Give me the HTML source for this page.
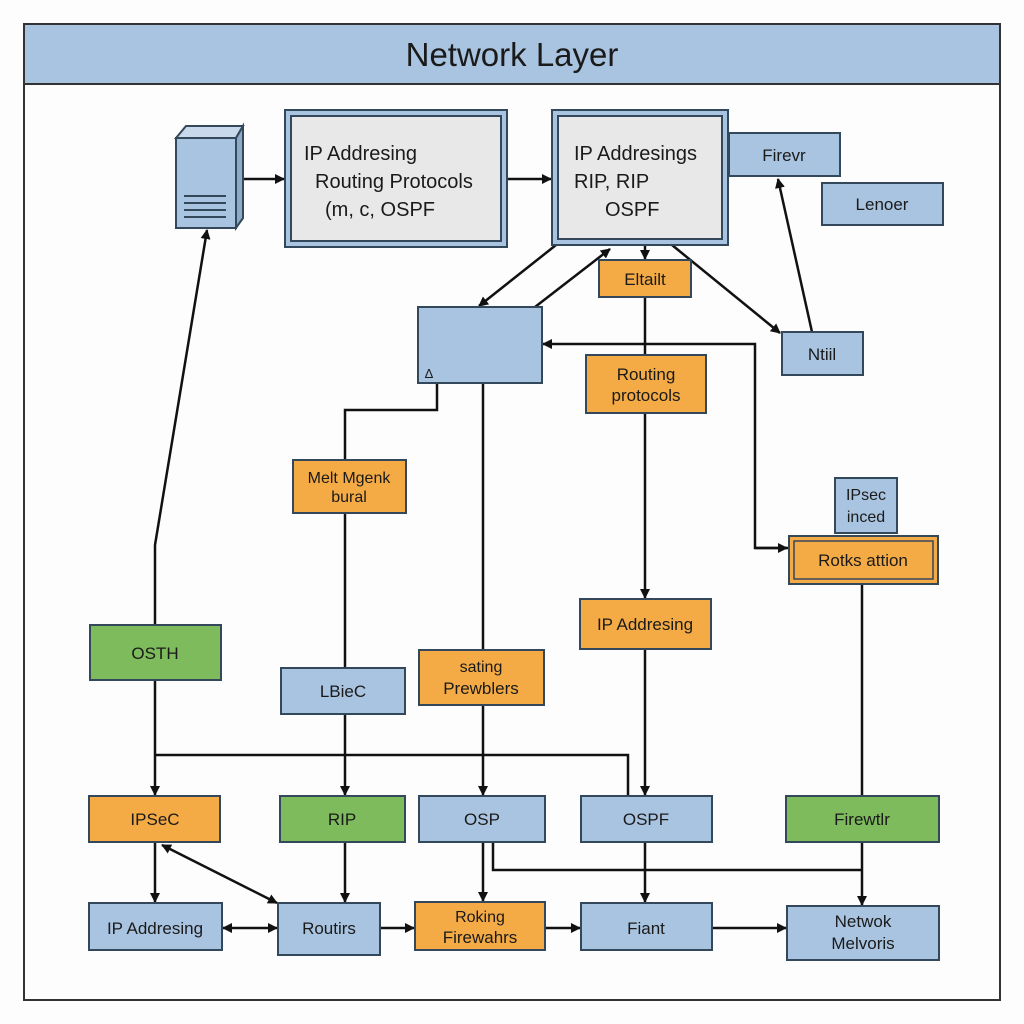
<!DOCTYPE html>
<html><head><meta charset="utf-8"><style>
html,body{margin:0;padding:0;background:#fff;}
svg{display:block;}
text{font-family:"Liberation Sans",sans-serif;fill:#1a1a1a;}
</style></head><body>
<svg width="1024" height="1024" viewBox="0 0 1024 1024" xmlns="http://www.w3.org/2000/svg">
<defs>
<marker id="a" markerWidth="10" markerHeight="10" refX="9" refY="5" orient="auto" markerUnits="userSpaceOnUse">
<path d="M0,0 L10,5 L0,10 z" fill="#111"/></marker>
<marker id="s" markerWidth="10" markerHeight="10" refX="1" refY="5" orient="auto" markerUnits="userSpaceOnUse">
<path d="M10,0 L0,5 L10,10 z" fill="#111"/></marker>
</defs>
<rect width="1024" height="1024" fill="#fdfdfd"/>
<rect x="24" y="24" width="976" height="976" fill="#fdfdfd" stroke="#333" stroke-width="2"/>
<rect x="24" y="24" width="976" height="60" fill="#a9c4e0" stroke="#333" stroke-width="2"/>
<text x="512" y="66" font-size="33" text-anchor="middle">Network Layer</text>

<g stroke="#111" stroke-width="2.5" fill="none">
<line x1="243" y1="179" x2="284" y2="179" marker-end="url(#a)"/>
<line x1="507" y1="179" x2="551" y2="179" marker-end="url(#a)"/>
<polyline points="155,625 155,545 207,230" marker-end="url(#a)"/>
<line x1="556" y1="245" x2="479" y2="306" marker-end="url(#a)"/>
<line x1="535" y1="307" x2="610" y2="249" marker-end="url(#a)"/>
<line x1="645" y1="245" x2="645" y2="259" marker-end="url(#a)"/>
<line x1="672" y1="245" x2="780" y2="333" marker-end="url(#a)"/>
<line x1="812" y1="332" x2="778" y2="179" marker-end="url(#a)"/>
<line x1="645" y1="297" x2="645" y2="355"/>
<line x1="645" y1="413" x2="645" y2="598" marker-end="url(#a)"/>
<polyline points="788,548 755,548 755,344 543,344" marker-end="url(#a)"/>
<line x1="755" y1="548" x2="787" y2="548" marker-end="url(#a)"/>
<polyline points="437,383 437,410 345,410 345,460"/>
<line x1="345" y1="513" x2="345" y2="668"/>
<line x1="345" y1="714" x2="345" y2="795" marker-end="url(#a)"/>
<line x1="483" y1="383" x2="483" y2="650"/>
<line x1="483" y1="705" x2="483" y2="795" marker-end="url(#a)"/>
<polyline points="155,755 628,755 628,796"/>
<line x1="155" y1="680" x2="155" y2="795" marker-end="url(#a)"/>
<line x1="645" y1="649" x2="645" y2="795" marker-end="url(#a)"/>
<line x1="862" y1="584" x2="862" y2="796"/>
<line x1="862" y1="842" x2="862" y2="905" marker-end="url(#a)"/>
<polyline points="493,842 493,870 862,870"/>
<line x1="483" y1="842" x2="483" y2="901" marker-end="url(#a)"/>
<line x1="645" y1="842" x2="645" y2="902" marker-end="url(#a)"/>
<line x1="155" y1="842" x2="155" y2="902" marker-end="url(#a)"/>
<line x1="162" y1="845" x2="277" y2="903" marker-start="url(#s)" marker-end="url(#a)"/>
<line x1="345" y1="842" x2="345" y2="902" marker-end="url(#a)"/>
<line x1="223" y1="928" x2="277" y2="928" marker-start="url(#s)" marker-end="url(#a)"/>
<line x1="380" y1="928" x2="414" y2="928" marker-end="url(#a)"/>
<line x1="545" y1="928" x2="580" y2="928" marker-end="url(#a)"/>
<line x1="712" y1="928" x2="786" y2="928" marker-end="url(#a)"/>
</g>

<g stroke="#34485c" stroke-width="2">
<!-- server -->
<polygon points="176,138 186,126 243,126 236,138" fill="#c9d8ea"/>
<polygon points="236,138 243,126 243,218 236,228" fill="#8eaacb"/>
<rect x="176" y="138" width="60" height="90" fill="#a9c4e0"/>
<line x1="184" y1="196" x2="226" y2="196"/><line x1="184" y1="203" x2="226" y2="203"/><line x1="184" y1="210" x2="226" y2="210"/><line x1="184" y1="217" x2="226" y2="217"/>

<rect x="285" y="110" width="222" height="137" fill="#a9c4e0"/>
<rect x="291" y="116" width="210" height="125" fill="#e8e8e8"/>
<rect x="552" y="110" width="176" height="135" fill="#a9c4e0"/>
<rect x="558" y="116" width="164" height="123" fill="#e8e8e8"/>
<rect x="729" y="133" width="111" height="43" fill="#a9c4e0"/>
<rect x="822" y="183" width="121" height="42" fill="#a9c4e0"/>
<rect x="599" y="260" width="92" height="37" fill="#f4ab45"/>
<rect x="418" y="307" width="124" height="76" fill="#a9c4e0"/>
<rect x="782" y="332" width="81" height="43" fill="#a9c4e0"/>
<rect x="586" y="355" width="120" height="58" fill="#f4ab45"/>
<rect x="293" y="460" width="113" height="53" fill="#f4ab45"/>
<rect x="835" y="478" width="62" height="55" fill="#a9c4e0"/>
<rect x="789" y="536" width="149" height="48" fill="#f4ab45"/>
<rect x="794" y="541" width="139" height="38" fill="none" stroke-width="1.5"/>
<rect x="580" y="599" width="131" height="50" fill="#f4ab45"/>
<rect x="90" y="625" width="131" height="55" fill="#7dbb5c"/>
<rect x="281" y="668" width="124" height="46" fill="#a9c4e0"/>
<rect x="419" y="650" width="125" height="55" fill="#f4ab45"/>
<rect x="89" y="796" width="131" height="46" fill="#f4ab45"/>
<rect x="280" y="796" width="125" height="46" fill="#7dbb5c"/>
<rect x="419" y="796" width="126" height="46" fill="#a9c4e0"/>
<rect x="581" y="796" width="131" height="46" fill="#a9c4e0"/>
<rect x="786" y="796" width="153" height="46" fill="#7dbb5c"/>
<rect x="89" y="903" width="133" height="47" fill="#a9c4e0"/>
<rect x="278" y="903" width="102" height="52" fill="#a9c4e0"/>
<rect x="415" y="902" width="130" height="48" fill="#f4ab45"/>
<rect x="581" y="903" width="131" height="47" fill="#a9c4e0"/>
<rect x="787" y="906" width="152" height="54" fill="#a9c4e0"/>
</g>

<g font-size="20">
<text x="304" y="160">IP Addresing</text>
<text x="315" y="188">Routing Protocols</text>
<text x="325" y="216">(m, c, OSPF</text>
<text x="574" y="160">IP Addresings</text>
<text x="574" y="188">RIP, RIP</text>
<text x="605" y="216">OSPF</text>
</g>
<g font-size="17" text-anchor="middle">
<text x="784" y="161">Firevr</text>
<text x="882" y="210">Lenoer</text>
<text x="645" y="285">Eltailt</text>
<text x="822" y="360">Ntiil</text>
<text x="646" y="380">Routing</text>
<text x="646" y="401">protocols</text>
<text x="349" y="483" font-size="16">Melt Mgenk</text>
<text x="349" y="502" font-size="16">bural</text>
<text x="866" y="500" font-size="16">IPsec</text>
<text x="866" y="522" font-size="16">inced</text>
<text x="863" y="566">Rotks attion</text>
<text x="645" y="630">IP Addresing</text>
<text x="155" y="659">OSTH</text>
<text x="343" y="697">LBieC</text>
<text x="481" y="672" font-size="16">sating</text>
<text x="481" y="694">Prewblers</text>
<text x="155" y="825">IPSeC</text>
<text x="342" y="825">RIP</text>
<text x="482" y="825">OSP</text>
<text x="646" y="825">OSPF</text>
<text x="862" y="825">Firewtlr</text>
<text x="155" y="934">IP Addresing</text>
<text x="329" y="934">Routirs</text>
<text x="480" y="922" font-size="16">Roking</text>
<text x="480" y="943">Firewahrs</text>
<text x="646" y="934">Fiant</text>
<text x="863" y="927">Netwok</text>
<text x="863" y="949">Melvoris</text>
<text x="429" y="378" font-size="13">Δ</text>
</g>
</svg>
</body></html>
